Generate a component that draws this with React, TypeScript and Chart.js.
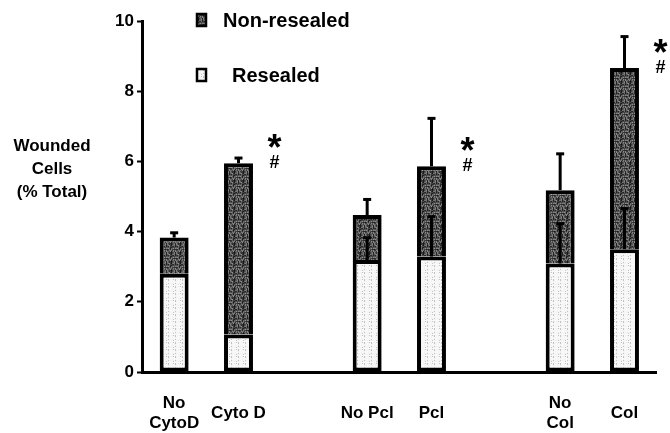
import React, { useEffect, useRef } from "react";
import { Chart, registerables } from "chart.js";

Chart.register(...registerables);

const categories: (string | string[])[] = [["No", "CytoD"], "Cyto D", "", "No Pcl", "Pcl", "", ["No", "Col"], "Col"];
const resealed: (number | null)[] = [2.8, 1.07, null, 3.19, 3.29, null, 3.09, 3.5];
const nonResealed: (number | null)[] = [1.03, 4.88, null, 1.28, 2.57, null, 2.09, 5.16];
const nonResealedErr: (number | null)[] = [0.15, 0.16, null, 0.46, 1.38, null, 1.05, 0.91];
const resealedErr: (number | null)[] = [0, 0, null, 0.65, 1.15, null, 1.15, 1.17];
const significant: boolean[] = [false, true, false, false, true, false, false, true];
const yTicks: number[] = [0, 2, 4, 6, 8, 10];
const legendLabels: string[] = ["Non-resealed", "Resealed"];
const yTitle: string[] = ["Wounded", "Cells", "(% Total)"];

const FONT = "'Liberation Sans', Arial, Helvetica, sans-serif";

// deterministic texture tile (hash based), used only for the stipple fill look
function makeTexture(size: number, base: number, spread: number, dotEvery: number, dotVal: number): CanvasPattern | string {
  const c = document.createElement("canvas");
  c.width = size;
  c.height = size;
  const g = c.getContext("2d");
  if (!g) return "#888";
  for (let y = 0; y < size; y++) {
    for (let x = 0; x < size; x++) {
      const h = ((x * 73856093) ^ (y * 19349663) ^ ((x + y) * 83492791)) >>> 0;
      const f = (h % 1000) / 1000;
      let v = Math.round(base + (f - 0.5) * spread);
      if (dotEvery > 0 && (h % dotEvery) === 0) v = dotVal;
      v = Math.max(0, Math.min(255, v));
      g.fillStyle = `rgb(${v},${v},${v})`;
      g.fillRect(x, y, 1, 1);
    }
  }
  const p = g.createPattern(c, "repeat");
  return p || "#888";
}

export default function App() {
  const ref = useRef<HTMLCanvasElement | null>(null);
  useEffect(() => {
    if (!ref.current) return;
    const dark = makeTexture(9, 85, 120, 0, 0);
    const light = makeTexture(7, 247, 10, 5, 195);

    const overlay = {
      id: "overlay",
      afterDatasetsDraw(chart: any) {
        const ctx: CanvasRenderingContext2D = chart.ctx;
        const ys = chart.scales.y;
        const meta = chart.getDatasetMeta(1);
        ctx.save();
        ctx.strokeStyle = "#000";
        ctx.fillStyle = "#000";
        const drawErr = (x: number, y0: number, y1: number) => {
          ctx.lineWidth = 3;
          ctx.beginPath();
          ctx.moveTo(x, y0);
          ctx.lineTo(x, y1);
          ctx.stroke();
          ctx.fillRect(x - 4, y1 - 1, 8, 3);
        };
        categories.forEach((_, i) => {
          const r = resealed[i];
          const n = nonResealed[i];
          if (r == null || n == null) return;
          const el = meta.data[i];
          if (!el) return;
          const x = el.x;
          const total = r + n;
          const e = nonResealedErr[i] || 0;
          if (e > 0) drawErr(x, ys.getPixelForValue(total), ys.getPixelForValue(total + e));
          const re = resealedErr[i] || 0;
          if (re > 0) drawErr(x, ys.getPixelForValue(r), ys.getPixelForValue(r + re));
          if (significant[i]) {
            const hy = ys.getPixelForValue(total) - 1;
            const mx = x + 36;
            ctx.textAlign = "center";
            ctx.textBaseline = "alphabetic";
            ctx.font = `bold 18px ${FONT}`;
            ctx.fillText("#", mx, hy + 6);
            ctx.font = `bold 36px ${FONT}`;
            ctx.fillText("*", mx, hy - 23 + 21);
          }
        });
        ctx.restore();
      },
      afterDraw(chart: any) {
        const ctx: CanvasRenderingContext2D = chart.ctx;
        ctx.save();
        const items = [
          { label: legendLabels[0], fill: dark, sx: 197, sy: 14, tx: 223, ty: 20 },
          { label: legendLabels[1], fill: light, sx: 197, sy: 69, tx: 232, ty: 75 },
        ];
        items.forEach((it) => {
          ctx.fillStyle = it.fill as any;
          ctx.fillRect(it.sx, it.sy, 9, 12);
          ctx.strokeStyle = "#000";
          ctx.lineWidth = 2.5;
          ctx.strokeRect(it.sx, it.sy, 9, 12);
          ctx.fillStyle = "#000";
          ctx.font = `bold 20px ${FONT}`;
          ctx.textAlign = "left";
          ctx.textBaseline = "middle";
          ctx.fillText(it.label, it.tx, it.ty + 1);
        });
        ctx.font = `bold 17px ${FONT}`;
        ctx.textAlign = "center";
        ctx.textBaseline = "middle";
        yTitle.forEach((line, k) => {
          ctx.fillText(line, 52, 146 + k * 23);
        });
        ctx.restore();
      },
    };

    const chart = new Chart(ref.current, {
      type: "bar",
      data: {
        labels: categories as any,
        datasets: [
          {
            label: legendLabels[1],
            data: resealed as any,
            backgroundColor: light as any,
            borderColor: "#000",
            borderWidth: 4,
            borderSkipped: false,
            barPercentage: 0.45,
            categoryPercentage: 1,
          },
          {
            label: legendLabels[0],
            data: nonResealed as any,
            backgroundColor: dark as any,
            borderColor: "#000",
            borderWidth: 4,
            borderSkipped: "start",
            barPercentage: 0.45,
            categoryPercentage: 1,
          },
        ],
      },
      options: {
        responsive: false,
        animation: false,
        devicePixelRatio: 1,
        layout: { padding: { top: 21, right: 13, left: 0, bottom: 0 } },
        plugins: { legend: { display: false }, tooltip: { enabled: false } },
        scales: {
          x: {
            stacked: true,
            offset: true,
            grid: { display: false, drawTicks: false },
            border: { display: true, color: "#000", width: 3 },
            ticks: {
              color: "#000",
              font: { family: FONT, size: 17, weight: "bold" },
              padding: 31,
              crossAlign: "center",
              maxRotation: 0,
              autoSkip: false,
            },
            afterFit(s: any) { s.height = 61; },
          },
          y: {
            stacked: true,
            min: 0,
            max: 10,
            afterBuildTicks(s: any) { s.ticks = yTicks.map((v) => ({ value: v })); },
            grid: { drawOnChartArea: false, tickLength: 5, tickWidth: 2, tickColor: "#000" },
            border: { display: true, color: "#000", width: 3 },
            ticks: {
              color: "#000",
              font: { family: FONT, size: 17, weight: "bold" },
              padding: 3,
            },
            afterFit(s: any) { s.width = 142; },
          },
        },
      } as any,
      plugins: [overlay],
    });
    return () => chart.destroy();
  }, []);

  return (
    <div style={{ position: "fixed", left: 0, top: 0, width: 670, height: 433, background: "#fff" }}>
      <canvas ref={ref} width={670} height={433} style={{ width: 670, height: 433 }} />
    </div>
  );
}
